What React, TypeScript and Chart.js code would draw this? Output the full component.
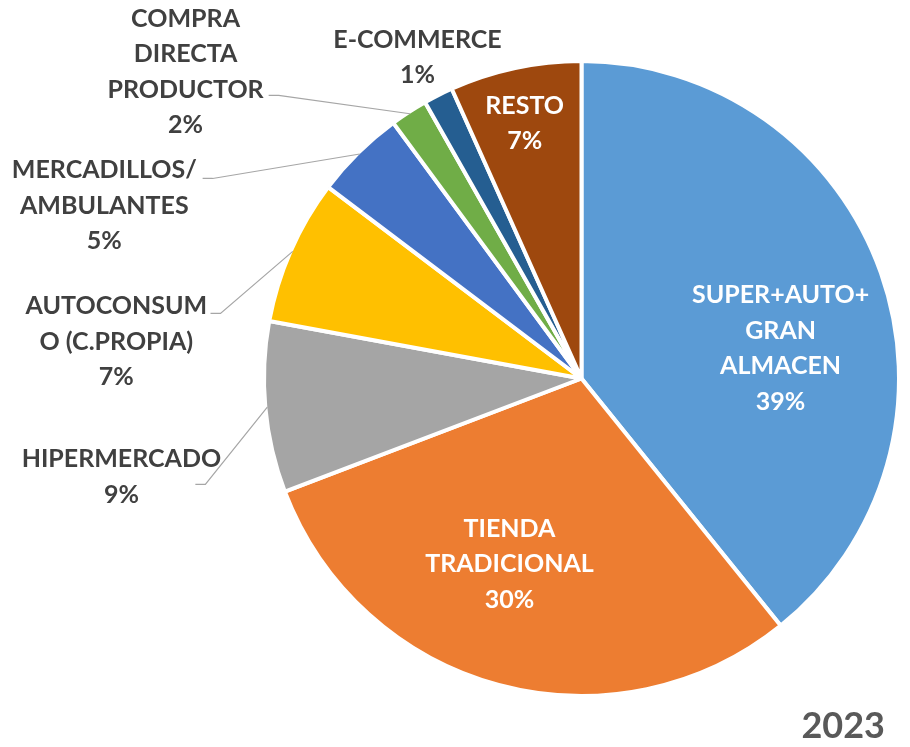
import React, { useEffect, useRef } from "react";
import { Chart, registerables } from "chart.js";

Chart.register(...registerables);

// ---- data ----
const CATEGORIES = [
  "SUPER+AUTO+GRAN ALMACEN",
  "TIENDA TRADICIONAL",
  "HIPERMERCADO",
  "AUTOCONSUMO (C.PROPIA)",
  "MERCADILLOS/AMBULANTES",
  "COMPRA DIRECTA PRODUCTOR",
  "E-COMMERCE",
  "RESTO",
];
const SHARES = [39.2, 30.0, 8.7, 7.4, 4.6, 1.9, 1.5, 6.7];
const PCT_LABELS = ["39%", "30%", "9%", "7%", "5%", "2%", "1%", "7%"];
const LABEL_LINES = [
  ["SUPER+AUTO+", "GRAN", "ALMACEN"],
  ["TIENDA", "TRADICIONAL"],
  ["HIPERMERCADO"],
  ["AUTOCONSUM", "O (C.PROPIA)"],
  ["MERCADILLOS/", "AMBULANTES"],
  ["COMPRA", "DIRECTA", "PRODUCTOR"],
  ["E-COMMERCE"],
  ["RESTO"],
];
const YEAR = "2023";

// ---- style ----
const COLORS = ["#5B9BD5", "#ED7D31", "#A5A5A5", "#FFC000", "#4472C4", "#70AD47", "#255E91", "#9E480E"];
// label block centre (relative to pie centre, in units of radius), inside flag, leader start
const LABEL_LAYOUT = [
  { fx: 0.63, fy: -0.098, inside: true, leader: null },
  { fx: -0.228, fy: 0.585, inside: true, leader: null },
  { fx: -1.456, fy: 0.308, inside: false, leader: [-1.222, 0.335] },
  { fx: -1.472, fy: -0.12, inside: false, leader: [-1.174, -0.206] },
  { fx: -1.51, fy: -0.55, inside: false, leader: [-1.199, -0.633] },
  { fx: -1.253, fy: -0.973, inside: false, leader: [-0.99, -0.896] },
  { fx: -0.519, fy: -1.02, inside: false, leader: null },
  { fx: -0.18, fy: -0.81, inside: true, leader: null },
];
const FONT = "bold 25px Lato, 'Open Sans', sans-serif";
const LINE_H = 35.4;

const labelPlugin = {
  id: "pieLabels",
  afterDraw(chart: any) {
    const ctx = chart.ctx;
    const meta = chart.getDatasetMeta(0);
    ctx.save();
    meta.data.forEach((arc: any, i: number) => {
      const { x, y, startAngle, endAngle, outerRadius } = arc.getProps(
        ["x", "y", "startAngle", "endAngle", "outerRadius"],
        true
      );
      const R = 316;
      const lay = LABEL_LAYOUT[i];
      if (lay.leader) {
        const mid = (startAngle + endAngle) / 2;
        const ex = x + Math.cos(mid) * (outerRadius - 2);
        const ey = y + Math.sin(mid) * (outerRadius - 2);
        const sx = x + lay.leader[0] * R;
        const sy = y + lay.leader[1] * R;
        ctx.strokeStyle = "#A6A6A6";
        ctx.lineWidth = 1.2;
        ctx.beginPath();
        ctx.moveTo(sx, sy);
        ctx.lineTo(sx + 10, sy);
        ctx.lineTo(ex, ey);
        ctx.stroke();
      }
      const lines = [...LABEL_LINES[i], PCT_LABELS[i]];
      const bx = x + lay.fx * R;
      const by = y + lay.fy * R;
      ctx.font = FONT;
      ctx.textAlign = "center";
      ctx.textBaseline = "middle";
      ctx.fillStyle = lay.inside ? "#FFFFFF" : "#404040";
      lines.forEach((t, j) => {
        ctx.fillText(t, bx, by + (j - (lines.length - 1) / 2) * LINE_H + 1);
      });
    });
    ctx.font = "bold 36px Lato, 'Open Sans', sans-serif";
    ctx.fillStyle = "#595959";
    ctx.textAlign = "right";
    ctx.textBaseline = "alphabetic";
    ctx.fillText(YEAR, chart.width - 25, chart.height - 9);
    ctx.restore();
  },
};

export default function App() {
  const ref = useRef<HTMLCanvasElement | null>(null);
  useEffect(() => {
    if (!ref.current) return;
    const chart = new Chart(ref.current, {
      type: "pie",
      data: {
        labels: CATEGORIES,
        datasets: [
          {
            data: SHARES,
            backgroundColor: COLORS,
            borderColor: "#FFFFFF",
            borderWidth: 4,
          },
        ],
      },
      options: {
        responsive: false,
        animation: false,
        layout: { padding: { left: 262, top: 59, right: 9, bottom: 49 } },
        plugins: {
          legend: { display: false },
          tooltip: { enabled: false },
        },
      },
      plugins: [labelPlugin],
    });
    return () => chart.destroy();
  }, []);
  return (
    <div style={{ position: "fixed", left: 0, top: 0, width: 910, height: 747, background: "#fff" }}>
      <canvas ref={ref} width={910} height={747} />
    </div>
  );
}
